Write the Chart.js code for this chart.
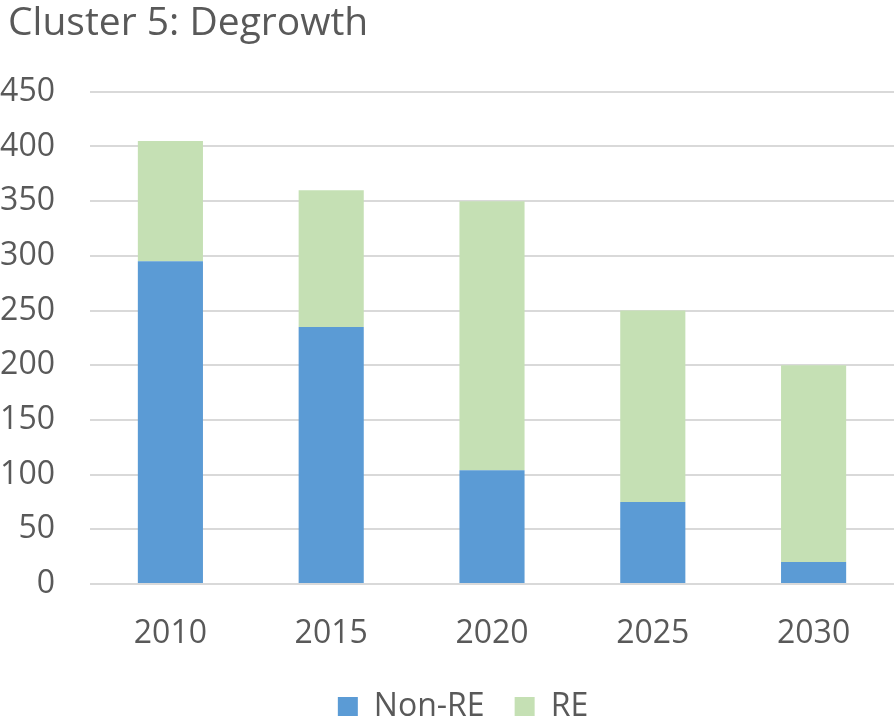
<!DOCTYPE html>
<html>
<head>
<meta charset="utf-8">
<script src="https://cdn.jsdelivr.net/npm/chart.js@4.4.1/dist/chart.umd.min.js"></script>
<style>
  html, body { margin: 0; padding: 0; background: #fff; }
  #wrap { width: 896px; height: 716px; }
</style>
</head>
<body>
<div id="wrap"><canvas id="chart" width="896" height="716"></canvas></div>
<script>
// Daten
const years = ['2010', '2015', '2020', '2025', '2030'];
const nonRE = [295, 235, 104, 75, 20];
const re = [110, 125, 246, 175, 180];
const yTicks = [0, 50, 100, 150, 200, 250, 300, 350, 400, 450];

const textColor = '#595959';
const fontFamily = '"Open Sans", sans-serif';

// Titel und Legende etwas nach rechts schieben
const shiftBoxes = {
    id: 'shiftBoxes',
    afterLayout(chart) {
        chart.titleBlock.left += 8;
        chart.titleBlock.right += 8;
        chart.legend.left += 16;
        chart.legend.right += 16;
    }
};

new Chart(document.getElementById('chart'), {
    type: 'bar',
    data: {
        labels: years,
        datasets: [
            { label: 'Non-RE', data: nonRE, backgroundColor: '#5b9bd5', borderWidth: 0 },
            { label: 'RE', data: re, backgroundColor: '#c5e0b4', borderWidth: 0 }
        ]
    },
    options: {
        responsive: false,
        animation: false,
        layout: { padding: { left: 0, right: 2, top: 0, bottom: -17 } },
        datasets: { bar: { categoryPercentage: 1, barPercentage: 0.405 } },
        plugins: {
            title: {
                display: true,
                text: 'Cluster 5: Degrowth',
                align: 'start',
                color: textColor,
                font: { family: fontFamily, size: 39, weight: 'normal' },
                padding: { top: 0, bottom: 45 }
            },
            legend: {
                position: 'bottom',
                labels: {
                    color: textColor,
                    font: { family: fontFamily, size: 32 },
                    boxWidth: 20,
                    boxHeight: 20,
                    padding: 30
                }
            },
            tooltip: { enabled: false }
        },
        scales: {
            x: {
                stacked: true,
                afterFit: (axis) => { axis.height = 77; },
                grid: { display: false },
                border: { display: false },
                ticks: { color: textColor, font: { family: fontFamily, size: 32 }, padding: 23 }
            },
            y: {
                stacked: true,
                min: 0,
                max: 450,
                afterBuildTicks: (axis) => { axis.ticks = yTicks.map(v => ({ value: v })); },
                afterFit: (axis) => { axis.width = 90; },
                grid: { color: '#d9d9d9', lineWidth: 2, drawTicks: false },
                border: { display: false },
                ticks: { color: textColor, font: { family: fontFamily, size: 32 }, padding: 35 }
            }
        }
    },
    plugins: [shiftBoxes]
});
</script>
</body>
</html>
